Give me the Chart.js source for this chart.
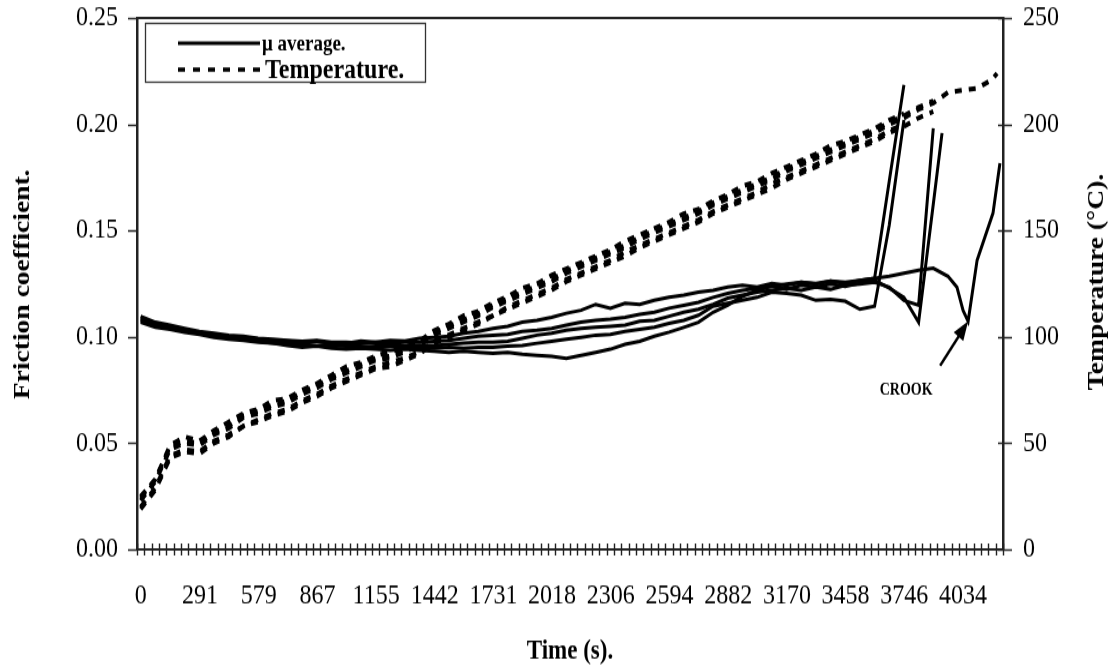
<!DOCTYPE html>
<html>
<head>
<meta charset="utf-8">
<script src="https://cdn.jsdelivr.net/npm/chart.js@4.4.0/dist/chart.umd.min.js"></script>
<style>
  html, body { margin: 0; padding: 0; background: #fff; overflow: hidden; }
</style>
</head>
<body>
<!-- the figure is drawn on a 1111x556 canvas and shown 1.2x taller -->
<canvas id="c" width="1111" height="556" style="display:block;width:1111px;height:667px;"></canvas>
<script>
const SERIF = "'Liberation Serif', 'Times New Roman', serif";

// Time axis: 118 logged samples of 36 s, labelled every 8 samples
const tickLabels = [0, 291, 579, 867, 1155, 1442, 1731, 2018, 2306, 2594, 2882, 3170, 3458, 3746, 4034];
const timeMin = -18, timeMax = 4230, sampleCount = 118;

// Every second logging instant (s)
const sampleTime = [0, 72, 144, 216, 288, 360, 432, 504, 576, 648, 720, 792, 864, 936, 1008, 1080,
  1152, 1224, 1296, 1368, 1440, 1512, 1584, 1656, 1728, 1800, 1872, 1944, 2016, 2088, 2160, 2232,
  2304, 2376, 2448, 2520, 2592, 2664, 2736, 2808, 2880, 2952, 3024, 3096, 3168, 3240, 3312, 3384,
  3456, 3528, 3600, 3672, 3744, 3816, 3888, 3960, 4032, 4104, 4176];

// Average friction coefficient, five runs
const muRun1 = [0.109, 0.106, 0.105, 0.1035, 0.102, 0.101, 0.100, 0.0998, 0.099, 0.0984, 0.098, 0.0975,
  0.098, 0.097, 0.097, 0.098, 0.0975, 0.0984, 0.098, 0.0993, 0.0998, 0.1003, 0.1017, 0.1026,
  0.104, 0.105, 0.1069, 0.1078, 0.1092, 0.1111, 0.1125, 0.1153, 0.1135, 0.1158, 0.1153, 0.1172, 0.1186,
  0.1196, 0.121, 0.1219, 0.1234, 0.1243, 0.1234, 0.1252, 0.1243, 0.1257, 0.1248, 0.1262, 0.1252, 0.1266,
  0.1276, 0.1733, 0.2185];
const muRun2 = [0.1078, 0.105, 0.104, 0.1026, 0.1017, 0.1003, 0.0998, 0.0989, 0.0979, 0.0975, 0.097,
  0.0965, 0.096, 0.0965, 0.096, 0.0956, 0.0951, 0.0956, 0.0946, 0.0951, 0.0946, 0.0951, 0.0946,
  0.0951, 0.0951, 0.0956, 0.096, 0.097, 0.0979, 0.0989, 0.0998, 0.1008, 0.1012, 0.1026, 0.1036, 0.1045,
  0.1064, 0.1078, 0.1102, 0.1144, 0.1158, 0.1172, 0.1186, 0.121, 0.1205, 0.1196, 0.1172, 0.1177, 0.1168,
  0.113, 0.1144, 0.1525, 0.202];
const muRun3 = [0.1097, 0.1069, 0.1055, 0.104, 0.1026, 0.1017, 0.1008, 0.1003, 0.0993, 0.0989, 0.0984,
  0.0979, 0.0984, 0.0975, 0.0975, 0.097, 0.0975, 0.097, 0.0975, 0.0975, 0.0979, 0.0984, 0.0993,
  0.1003, 0.1008, 0.1012, 0.1026, 0.1031, 0.104, 0.1055, 0.1069, 0.1078, 0.1083, 0.1092, 0.1106, 0.1116,
  0.1135, 0.1149, 0.1163, 0.1186, 0.1205, 0.1219, 0.1229, 0.1238, 0.1224, 0.1243, 0.1234, 0.1248, 0.1238,
  0.1252, 0.1266, 0.1229, 0.1186, 0.1069, 0.1624];
const muRun4 = [0.1069, 0.1045, 0.1036, 0.1022, 0.1012, 0.0998, 0.0989, 0.0984, 0.0975, 0.097, 0.0965,
  0.096, 0.0956, 0.096, 0.0956, 0.0951, 0.0956, 0.096, 0.0956, 0.096, 0.096, 0.0965, 0.097, 0.0975,
  0.0975, 0.0979, 0.0993, 0.1008, 0.1017, 0.1031, 0.104, 0.1045, 0.105, 0.1055, 0.1073, 0.1078, 0.1097,
  0.1116, 0.113, 0.1153, 0.1182, 0.1196, 0.121, 0.1219, 0.1229, 0.1219, 0.1234, 0.1224, 0.1243, 0.1248,
  0.1257, 0.1234, 0.1172, 0.1149, 0.1982];
const muRun5 = [0.1083, 0.1055, 0.1045, 0.1031, 0.1017, 0.1008, 0.0993, 0.0989, 0.0979, 0.097, 0.096,
  0.0951, 0.0956, 0.0946, 0.0942, 0.0946, 0.0942, 0.0937, 0.0942, 0.0937, 0.0932, 0.0927, 0.0932,
  0.0927, 0.0923, 0.0927, 0.0918, 0.0913, 0.0909, 0.0899, 0.0913, 0.0927, 0.0942, 0.0965, 0.0979, 0.1003,
  0.1022, 0.1045, 0.1069, 0.1116, 0.1149, 0.1191, 0.1219, 0.1238, 0.1248, 0.1257, 0.1252, 0.1262, 0.1257,
  0.1266, 0.1276, 0.1285, 0.1299, 0.1314, 0.1323, 0.1285];
// Final readings logged between the regular instants
const tail3Time = [3931];
const tail3Mu = [0.1959];
const tail5Time = [4004, 4034, 4059, 4103, 4181, 4215];
const tail5Mu = [0.1234, 0.1125, 0.1073, 0.1361, 0.1582, 0.1817];

// Disc temperature (°C), same five runs
const tempRun1 = [25, 33, 49, 53, 51, 56, 60, 64, 66, 70, 71, 75, 78, 82, 86, 88, 91, 93, 95, 98, 103,
  106, 110, 112, 116, 119, 123, 125, 129, 132, 135, 138, 141, 145, 148, 151, 154, 158, 160, 164, 167,
  171, 173, 177, 180, 183, 186, 190, 192, 195, 198, 202, 205];
const tempRun2 = [20, 29, 44, 47, 46, 51, 54, 58, 61, 64, 66, 70, 73, 77, 80, 83, 86, 88, 90, 93, 98,
  101, 104, 107, 110, 114, 117, 120, 123, 127, 130, 133, 136, 140, 143, 146, 149, 152, 155, 159, 162,
  165, 168, 172, 175, 178, 181, 184, 187, 190, 193, 197, 200];
const tempRun3 = [24, 33, 48, 51, 50, 55, 58, 63, 65, 68, 70, 74, 77, 81, 84, 87, 90, 91, 94, 97, 102,
  105, 108, 111, 115, 118, 121, 124, 127, 131, 134, 137, 140, 143, 147, 150, 153, 156, 159, 163, 166,
  169, 172, 175, 179, 182, 185, 188, 191, 194, 197, 201, 204, 208, 211];
const tempRun4 = [19, 28, 43, 46, 45, 50, 53, 58, 60, 63, 65, 69, 72, 76, 79, 82, 85, 86, 89, 92, 97,
  100, 103, 106, 110, 113, 116, 119, 122, 126, 129, 132, 135, 138, 142, 145, 148, 151, 154, 158, 161,
  164, 167, 170, 174, 177, 180, 183, 186, 189, 192, 196, 199, 203, 206];
const tempRun5 = [23, 32, 47, 50, 49, 54, 57, 62, 64, 67, 69, 73, 76, 80, 83, 86, 89, 90, 93, 96, 101,
  104, 107, 110, 114, 117, 120, 123, 126, 130, 133, 136, 139, 142, 146, 149, 152, 155, 158, 162, 165,
  168, 171, 174, 178, 181, 184, 187, 190, 193, 196, 200, 203, 207, 210, 215, 216, 217, 221];
const tail5TempTime = [4201];
const tail5Temp = [224];

function points(times, values) {
  return values.map((v, i) => ({ x: times[i], y: v }));
}

const muSeries = [
  points(sampleTime, muRun1),
  points(sampleTime, muRun2),
  points(sampleTime, muRun3).concat(points(tail3Time, tail3Mu)),
  points(sampleTime, muRun4),
  points(sampleTime, muRun5).concat(points(tail5Time, tail5Mu))
];
const tempSeries = [
  points(sampleTime, tempRun1),
  points(sampleTime, tempRun2),
  points(sampleTime, tempRun3),
  points(sampleTime, tempRun4),
  points(sampleTime, tempRun5).concat(points(tail5TempTime, tail5Temp))
];

const datasets = [];
tempSeries.forEach((d, i) => datasets.push({
  label: 'Temperature ' + (i + 1), data: d, yAxisID: 'yT',
  borderColor: '#000', borderWidth: 4, borderDash: [7, 7], pointRadius: 0, tension: 0, fill: false
}));
muSeries.forEach((d, i) => datasets.push({
  label: 'μ average ' + (i + 1), data: d, yAxisID: 'yMu',
  borderColor: '#000', borderWidth: 3, pointRadius: 0, tension: 0, fill: false
}));

function noPadding(s) {
  s.paddingTop = 0; s.paddingBottom = 0; s.paddingLeft = 0; s.paddingRight = 0;
}

const decor = {
  id: 'decor',
  afterDraw(chart) {
    const ctx = chart.ctx;
    const a = chart.chartArea;
    const sx = chart.scales.x, sl = chart.scales.yMu, sr = chart.scales.yT;
    ctx.save();
    ctx.strokeStyle = '#222';
    ctx.lineWidth = 2;
    // frame top
    ctx.beginPath();
    ctx.moveTo(a.left, a.top); ctx.lineTo(a.right, a.top);
    ctx.stroke();

    // tick marks: one per sample boundary on the time axis
    ctx.lineWidth = 1.4;
    ctx.beginPath();
    for (let k = 0; k <= sampleCount; k++) {
      const x = Math.round(a.left + (a.right - a.left) * k / sampleCount) + 0.5;
      ctx.moveTo(x, a.bottom - 5); ctx.lineTo(x, a.bottom + 5);
    }
    sl.ticks.forEach(t => {
      const y = Math.round(sl.getPixelForValue(t.value)) + 0.5;
      ctx.moveTo(a.left - 9, y); ctx.lineTo(a.left, y);
    });
    sr.ticks.forEach(t => {
      const y = Math.round(sr.getPixelForValue(t.value)) + 0.5;
      ctx.moveTo(a.right - 5, y); ctx.lineTo(a.right + 9, y);
    });
    ctx.stroke();

    // axis titles
    ctx.fillStyle = '#000';
    ctx.font = 'bold 23px ' + SERIF;
    ctx.textAlign = 'center';
    ctx.textBaseline = 'middle';
    ctx.fillText('Time (s).', (a.left + a.right) / 2, 543);
    ctx.save();
    ctx.translate(23, 237);
    ctx.rotate(-Math.PI / 2);
    ctx.fillText('Friction coefficient.', 0, 0);
    ctx.restore();
    ctx.save();
    ctx.translate(1097, 235);
    ctx.rotate(-Math.PI / 2);
    ctx.fillText('Temperature (°C).', 0, 0);
    ctx.restore();

    // legend
    const lx = a.left + 8, ly = a.top + 4;
    ctx.fillStyle = '#fff';
    ctx.fillRect(lx, ly, 280, 49);
    ctx.strokeStyle = '#333';
    ctx.lineWidth = 1.3;
    ctx.strokeRect(lx + 0.5, ly + 0.5, 280, 49);
    ctx.strokeStyle = '#000';
    ctx.lineWidth = 2.8;
    ctx.beginPath();
    ctx.moveTo(lx + 33, ly + 17); ctx.lineTo(lx + 115, ly + 17);
    ctx.stroke();
    ctx.lineWidth = 3.5;
    ctx.setLineDash([7, 8]);
    ctx.beginPath();
    ctx.moveTo(lx + 33, ly + 39); ctx.lineTo(lx + 118, ly + 39);
    ctx.stroke();
    ctx.setLineDash([]);
    ctx.fillStyle = '#000';
    ctx.textAlign = 'left';
    ctx.font = 'bold 19px ' + SERIF;
    ctx.fillText('μ average.', lx + 117, ly + 18);
    ctx.font = 'bold 24px ' + SERIF;
    ctx.fillText('Temperature.', lx + 120, ly + 40);

    // crook marker on run 5
    let k = 0;
    tail5Mu.forEach((v, i) => { if (v < tail5Mu[k]) k = i; });
    const tx = sx.getPixelForValue(tail5Time[k]);
    const ty = sl.getPixelForValue(tail5Mu[k]);
    const bx = tx - 28, by = ty + 37;
    const ang = Math.atan2(ty - by, tx - bx);
    const c = Math.cos(ang), s = Math.sin(ang);
    ctx.strokeStyle = '#000';
    ctx.lineWidth = 2.5;
    ctx.beginPath();
    ctx.moveTo(bx, by);
    ctx.lineTo(tx - 12 * c, ty - 12 * s);
    ctx.stroke();
    ctx.beginPath();
    ctx.moveTo(tx, ty);
    ctx.lineTo(tx - 16 * c + 6 * s, ty - 16 * s - 6 * c);
    ctx.lineTo(tx - 16 * c - 6 * s, ty - 16 * s + 6 * c);
    ctx.closePath();
    ctx.fill();
    ctx.font = 'bold 14px ' + SERIF;
    ctx.textAlign = 'center';
    ctx.fillText('CROOK', tx - 62, ty + 58);
    ctx.restore();
  }
};

const tickFont = { family: SERIF, size: 24 };

new Chart(document.getElementById('c'), {
  type: 'line',
  data: { datasets },
  options: {
    responsive: false,
    animation: false,
    devicePixelRatio: 1,
    layout: { padding: { top: 15, left: 0, right: 0, bottom: 0 } },
    plugins: { legend: { display: false }, tooltip: { enabled: false } },
    scales: {
      x: {
        type: 'linear', position: 'bottom', min: timeMin, max: timeMax,
        grid: { display: false, drawTicks: false },
        border: { display: true, color: '#222', width: 2 },
        afterBuildTicks: s => { s.ticks = tickLabels.map(v => ({ value: v })); },
        ticks: {
          autoSkip: false, maxRotation: 0, minRotation: 0, padding: 24, color: '#000', font: tickFont,
          callback: v => String(v)
        },
        afterFit: s => { s.height = 98; noPadding(s); }
      },
      yMu: {
        type: 'linear', position: 'left', min: 0, max: 0.25,
        grid: { display: false, drawTicks: false },
        border: { display: true, color: '#222', width: 2.5 },
        ticks: { stepSize: 0.05, padding: 19, color: '#000', font: tickFont, callback: v => v.toFixed(2) },
        afterFit: s => { s.width = 137; noPadding(s); }
      },
      yT: {
        type: 'linear', position: 'right', min: 0, max: 250,
        grid: { display: false, drawTicks: false },
        border: { display: true, color: '#222', width: 2.5 },
        ticks: { stepSize: 50, padding: 20, color: '#000', font: tickFont },
        afterFit: s => { s.width = 108; noPadding(s); }
      }
    }
  },
  plugins: [decor]
});
</script>
</body>
</html>
